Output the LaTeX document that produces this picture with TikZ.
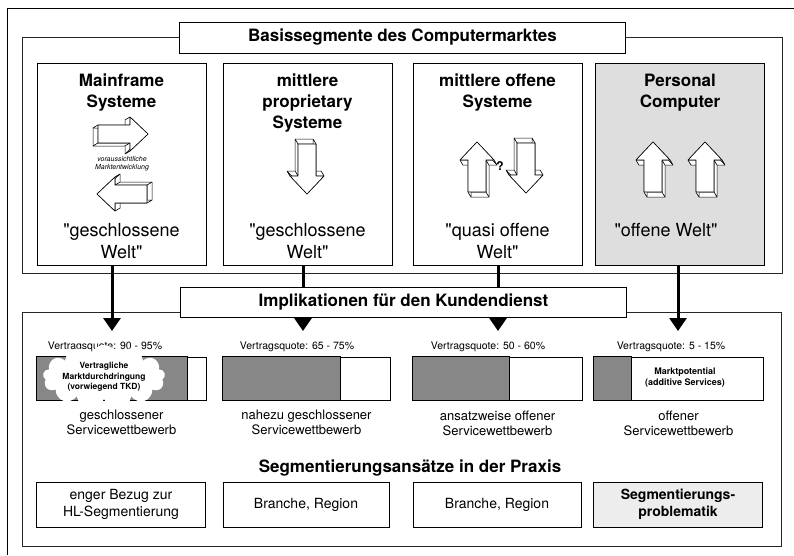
\documentclass[tikz,border=0pt]{standalone}
\usepackage{fontspec}
\setmainfont{TeX Gyre Heros}[Ligatures=TeXOff]
\usetikzlibrary{positioning, calc, shapes.symbols, arrows.meta}
\tikzset{
        x=1pt, y=-1pt, % pixel like coordinates, y runs downwards
        frame/.style={draw=black!85, line width=0.6pt}, % the two big group frames
        titlebox/.style={draw, fill=white, line width=0.6pt, minimum width=446pt, minimum height=31pt, font=\bfseries\fontsize{17}{20}\selectfont},
        colbox/.style={draw, line width=0.7pt, minimum width=169pt, minimum height=202pt},
        head/.style={align=center, inner sep=0pt, font=\bfseries\fontsize{17}{21}\selectfont},
        world/.style={align=center, inner sep=0pt, font=\fontsize{18}{22}\selectfont},
        conn/.style={line width=3pt, -{Triangle[length=13pt, width=17pt]}}, % thick arrows between the two parts
        bar/.style={draw, line width=0.6pt, minimum width=169pt, minimum height=43pt},
        dense/.style={fill=black!47, draw, line width=0.6pt}, % share of service contracts
        quota/.style={inner sep=0pt, font=\fontsize{10.5}{12}\selectfont},
        comp/.style={align=center, inner sep=0pt, font=\fontsize{13}{15}\selectfont},
        praxis/.style={draw, line width=0.6pt, minimum width=169pt, minimum height=45pt, align=center, font=\fontsize{14}{17}\selectfont},
        blockarrow/.pic={
                \foreach \ax/\ay/\bx/\by in {-9/0/9/0, 9/0/9/-32, 9/-32/17/-32, 17/-32/0/-50, 0/-50/-17/-32, -17/-32/-9/-32, -9/-32/-9/0}
                        \filldraw[fill=white, line width=0.5pt, line join=round] (\ax,\ay) -- (\bx,\by) -- (\bx+3,\by+5) -- (\ax+3,\ay+5) -- cycle;
                \filldraw[fill=white, line width=0.6pt, line join=round] (-9,0) -- (9,0) -- (9,-32) -- (17,-32) -- (0,-50) -- (-17,-32) -- (-9,-32) -- cycle;
        },
}

\begin{document}
\begin{tikzpicture}
        \useasboundingbox (0,0) rectangle (794,555);
        \draw[line width=0.8pt] (794,8) -- (7,8) -- (7,555);

        % upper part: market segments
        \draw[frame] (22,37) rectangle (782,273);
        \node[colbox] (col1) at (121.5,164) {};
        \node[colbox] (col2) at (307.5,164) {};
        \node[colbox] (col3) at (497.5,164) {};
        \node[colbox, fill=black!13] (col4) at (680,164) {};

        \node[head, below=11pt of col1.north] (h1) {Mainframe\\Systeme};
        \node[head, below=11pt of col2.north] (h2) {mittlere\\proprietary\\Systeme};
        \node[head, below=11pt of col3.north] (h3) {mittlere offene\\Systeme};
        \node[head, below=11pt of col4.north] (h4) {Personal\\Computer};

        \pic[rotate=-90] at (98,134) {blockarrow};
        \pic[rotate=90] at (147,194) {blockarrow};
        \node[inner sep=0pt, align=center, font=\itshape\fontsize{7}{8}\selectfont] (trend) at (122,164) {voraussichtliche\\Marktentwicklung};
        \pic[rotate=180] at (307,144) {blockarrow};
        \pic at (477,192) {blockarrow};
        \node[inner sep=0pt, font=\bfseries\fontsize{12}{14}\selectfont] (ask) at (500,166) {?};
        \pic[rotate=180] at (526,143) {blockarrow};
        \pic at (653,192) {blockarrow};
        \pic at (705,192) {blockarrow};

        \node[world, above=6pt of col1.south] (w1) {"geschlossene\\Welt"};
        \node[world, above=6pt of col2.south] (w2) {"geschlossene\\Welt"};
        \node[world, above=6pt of col3.south] (w3) {"quasi offene\\Welt"};
        \node[world, above=28pt of col4.south, xshift=-14pt] (w4) {"offene Welt"};

        % lower part: customer service
        \draw[frame] (22,312) rectangle (781,546);
        \coordinate (tip1) at (112,331);
        \coordinate (tip2) at (303,331);
        \coordinate (tip3) at (498,331);
        \coordinate (tip4) at (678,331);
        \draw[conn] (col1.south -| tip1) -- (tip1);
        \draw[conn] (col2.south -| tip2) -- (tip2);
        \draw[conn] (col3.south -| tip3) -- (tip3);
        \draw[conn] (col4.south -| tip4) -- (tip4);

        \node[titlebox] (basis) at (402.5,37.5) {Basissegmente des Computermarktes};
        \node[titlebox, minimum height=30pt] (impl) at (403.5,302) {Implikationen für den Kundendienst};

        \node[quota] (q1) at (105,347) {Vertragsquote: 90 - 95\%};
        \node[quota] (q2) at (297,347) {Vertragsquote: 65 - 75\%};
        \node[quota] (q3) at (488,347) {Vertragsquote: 50 - 60\%};
        \node[quota] (q4) at (671,347) {Vertragsquote: 5 - 15\%};

        \node[bar] (bar1) at (121.5,378.5) {};
        \node[bar, minimum width=167pt] (bar2) at (306.5,378.5) {};
        \node[bar] (bar3) at (497.5,378.5) {};
        \node[bar] (bar4) at (678.5,378.5) {};
        \filldraw[dense] (bar1.north west) rectangle ($(bar1.south west)!0.89!(bar1.south east)$);
        \filldraw[dense] (bar2.north west) rectangle ($(bar2.south west)!0.70!(bar2.south east)$);
        \filldraw[dense] (bar3.north west) rectangle ($(bar3.south west)!0.57!(bar3.south east)$);
        \filldraw[dense] (bar4.north west) rectangle ($(bar4.south west)!0.22!(bar4.south east)$);
        \node[cloud, cloud puffs=13, aspect=2.7, fill=white, inner sep=0pt, minimum width=120pt, minimum height=43pt, align=center, font=\bfseries\fontsize{8.5}{10.5}\selectfont] (cloud) at (104,377) {Vertragliche\\Marktdurchdringung\\(vorwiegend TKD)};
        \node[inner sep=0pt, align=center, font=\bfseries\fontsize{9}{11}\selectfont] (pot) at (685,378) {Marktpotential\\(additive Services)};

        \node[comp, below=10pt of bar1] (c1) {geschlossener\\Servicewettbewerb};
        \node[comp, below=10pt of bar2] (c2) {nahezu geschlossener\\Servicewettbewerb};
        \node[comp, below=10pt of bar3] (c3) {ansatzweise offener\\Servicewettbewerb};
        \node[comp, below=10pt of bar4] (c4) {offener\\Servicewettbewerb};

        \node[font=\bfseries\fontsize{17}{20}\selectfont] (seg) at (410,468) {Segmentierungsansätze in der Praxis};
        \node[praxis] (p1) at (121,504.5) {enger Bezug zur\\HL-Segmentierung};
        \node[praxis, minimum width=166pt] (p2) at (306,504.5) {Branche, Region};
        \node[praxis, minimum width=168pt] (p3) at (497,504.5) {Branche, Region};
        \node[praxis, fill=black!7, font=\bfseries\fontsize{14}{17}\selectfont] (p4) at (678,504.5) {Segmentierungs-\\problematik};
\end{tikzpicture}
\end{document}
